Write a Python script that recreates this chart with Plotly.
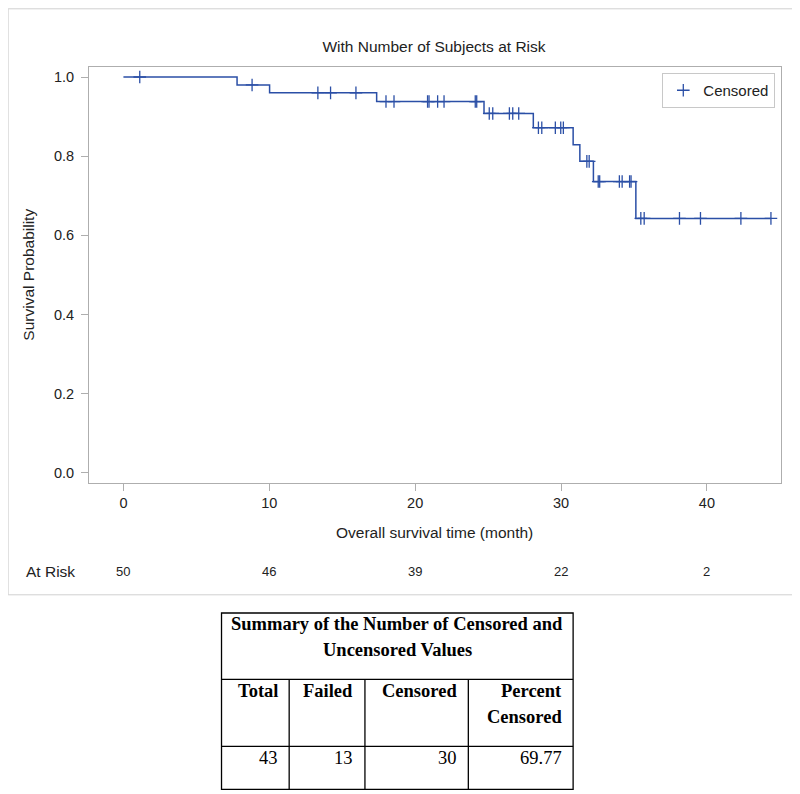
import numpy as np
import plotly.graph_objects as go

# ---------------- data ----------------
step_times = [0, 7.79, 10.02, 17.36, 24.72, 28.1, 30.83, 31.29, 32.22, 35.13, 44.39]
step_surv = [1.0, 0.980, 0.960, 0.938, 0.908, 0.872, 0.829, 0.787, 0.736, 0.643, 0.643]
censor_times = [1.12, 8.82, 13.33, 14.2, 15.94, 18.0, 18.55, 20.85, 20.95, 21.54, 21.98,
                24.12, 24.22, 25.08, 25.32, 26.46, 26.69, 27.1, 28.45, 28.68, 29.61,
                29.98, 30.16, 31.77, 31.93, 32.55, 32.65, 34.0, 34.19, 34.7, 34.8,
                35.47, 35.7, 38.12, 39.56, 42.33, 44.39]
risk_times = [0, 10, 20, 30, 40]
risk_counts = [50, 46, 39, 22, 2]
x_ticks = [0, 10, 20, 30, 40]
y_ticks = [0.0, 0.2, 0.4, 0.6, 0.8, 1.0]
table_title = ["Summary of the Number of Censored and", "Uncensored Values"]
table_headers = [["Total"], ["Failed"], ["Censored"], ["Percent", "Censored"]]
table_values = ["43", "13", "30", "69.77"]

# ---------------- layout helpers ----------------
OFF = 8  # page body margin: figure starts 8px in from the window corner
W, H = 800 - OFF, 794 - OFF
PL, PR, PT, PB = 89.3, 780.7, 66.7, 482.7  # plot frame in window px
BLUE = "#2B4FA6"
GRAY = "#AEAEAE"
TXT = "#222222"
SANS = "Liberation Sans, Arial, sans-serif"
SERIF = "Liberation Serif, Times New Roman, serif"


def X(px):
    return (px - PL) / (PR - PL)


def Y(py):
    return (PB - py) / (PB - PT)


# survival at censor times via step-function lookup
st = np.array(step_times)
sv = np.array(step_surv)
censor_surv = [float(sv[np.searchsorted(st, t, side="right") - 1]) for t in censor_times]

fig = go.Figure()
fig.add_trace(go.Scatter(x=step_times, y=step_surv, mode="lines", line_shape="hv",
                         line=dict(color=BLUE, width=1.5), showlegend=False,
                         hoverinfo="skip"))
fig.add_trace(go.Scatter(x=censor_times, y=censor_surv, mode="markers", name="Censored",
                         marker=dict(symbol="cross-thin", size=9,
                                     line=dict(color=BLUE, width=1.3), color=BLUE)))

fig.update_layout(
    width=W, height=H,
    margin=dict(l=PL - OFF, r=800 - PR, t=PT - OFF, b=794 - PB, autoexpand=False),
    paper_bgcolor="white", plot_bgcolor="white",
    font=dict(family=SANS, size=14, color=TXT),
    title=dict(text="With Number of Subjects at Risk", x=(434 - OFF) / W, xanchor="center",
               y=1 - (47 - OFF) / H, yanchor="middle", yref="container",
               font=dict(family=SANS, size=15.5, color=TXT)),
    showlegend=True,
    legend=dict(x=X(775), xanchor="right", y=Y(72.7), yanchor="top",
                bgcolor="white", bordercolor="#C8C8C8", borderwidth=1,
                font=dict(family=SANS, size=15, color=TXT), itemwidth=30,
                tracegroupgap=0),
)

fig.update_xaxes(range=[-2.36, 45.08], tickvals=x_ticks, ticktext=[str(v) for v in x_ticks],
                 showgrid=False, zeroline=False, showline=True, mirror=True,
                 linecolor=GRAY, linewidth=1, ticks="outside", ticklen=7,
                 tickcolor=GRAY, tickfont=dict(size=14.5, color=TXT), automargin=False)
fig.update_yaxes(range=[-0.0253, 1.0253], tickvals=y_ticks,
                 ticktext=[f"{v:.1f}" for v in y_ticks],
                 showgrid=False, zeroline=False, showline=True, mirror=True,
                 linecolor=GRAY, linewidth=1, ticks="outside", ticklen=7,
                 ticklabelstandoff=4,
                 tickcolor=GRAY, tickfont=dict(size=14.5, color=TXT), automargin=False)

ann = []
# axis titles
ann.append(dict(text="Overall survival time (month)", xref="paper", yref="paper",
                x=X(435), y=Y(532), xanchor="center", yanchor="middle", showarrow=False,
                font=dict(size=15.5, color=TXT)))
ann.append(dict(text="Survival Probability", xref="paper", yref="paper",
                x=X(28), y=Y(274.7), xanchor="center", yanchor="middle", showarrow=False,
                textangle=-90, font=dict(size=15.5, color=TXT)))
# at-risk row
ann.append(dict(text="At Risk", xref="paper", yref="paper", x=X(24), y=Y(571),
                xanchor="left", yanchor="middle", showarrow=False,
                font=dict(size=15.5, color=TXT)))
for t, n in zip(risk_times, risk_counts):
    ann.append(dict(text=str(n), xref="x", yref="paper", x=t, y=Y(571),
                    xanchor="center", yanchor="middle", showarrow=False,
                    font=dict(size=13, color=TXT)))

shapes = []
# outer border of graph (left/top edges pulled just inside the figure)
shapes.append(dict(type="rect", xref="paper", yref="paper", x0=X(OFF + 0.5), x1=X(794),
                   y0=Y(594.5), y1=Y(OFF + 0.5), line=dict(color="#D0D0D0", width=1)))

# ---------------- summary table ----------------
TL, TR, TT, TB = 221.7, 573.0, 612.7, 789.0
h1, h2 = 679.0, 746.0
cols = [TL, 289.3, 365.0, 468.3, TR]
line_k = dict(color="black", width=1.3)
shapes.append(dict(type="rect", xref="paper", yref="paper", x0=X(TL), x1=X(TR),
                   y0=Y(TB), y1=Y(TT), line=line_k))
for hy in (h1, h2):
    shapes.append(dict(type="line", xref="paper", yref="paper", x0=X(TL), x1=X(TR),
                       y0=Y(hy), y1=Y(hy), line=line_k))
for cx in cols[1:-1]:
    shapes.append(dict(type="line", xref="paper", yref="paper", x0=X(cx), x1=X(cx),
                       y0=Y(h1), y1=Y(TB), line=line_k))

for i, line in enumerate(table_title):
    ann.append(dict(text=f"<b>{line}</b>", xref="paper", yref="paper",
                    x=X((TL + TR) / 2), y=Y(624 + 26 * i), xanchor="center",
                    yanchor="middle", showarrow=False,
                    font=dict(family=SERIF, size=18.5, color="black")))
for j, hdr in enumerate(table_headers):
    for k, word in enumerate(hdr):
        ann.append(dict(text=f"<b>{word}</b>", xref="paper", yref="paper",
                        x=X(cols[j + 1] - 9.5), y=Y(690.5 + 26 * k), xanchor="right",
                        yanchor="middle", showarrow=False,
                        font=dict(family=SERIF, size=18.5, color="black")))
for j, v in enumerate(table_values):
    ann.append(dict(text=v, xref="paper", yref="paper", x=X(cols[j + 1] - 9.5),
                    y=Y(758), xanchor="right", yanchor="middle", showarrow=False,
                    font=dict(family=SERIF, size=18.5, color="black")))

fig.update_layout(annotations=ann, shapes=shapes)
fig.write_html("out.html")
